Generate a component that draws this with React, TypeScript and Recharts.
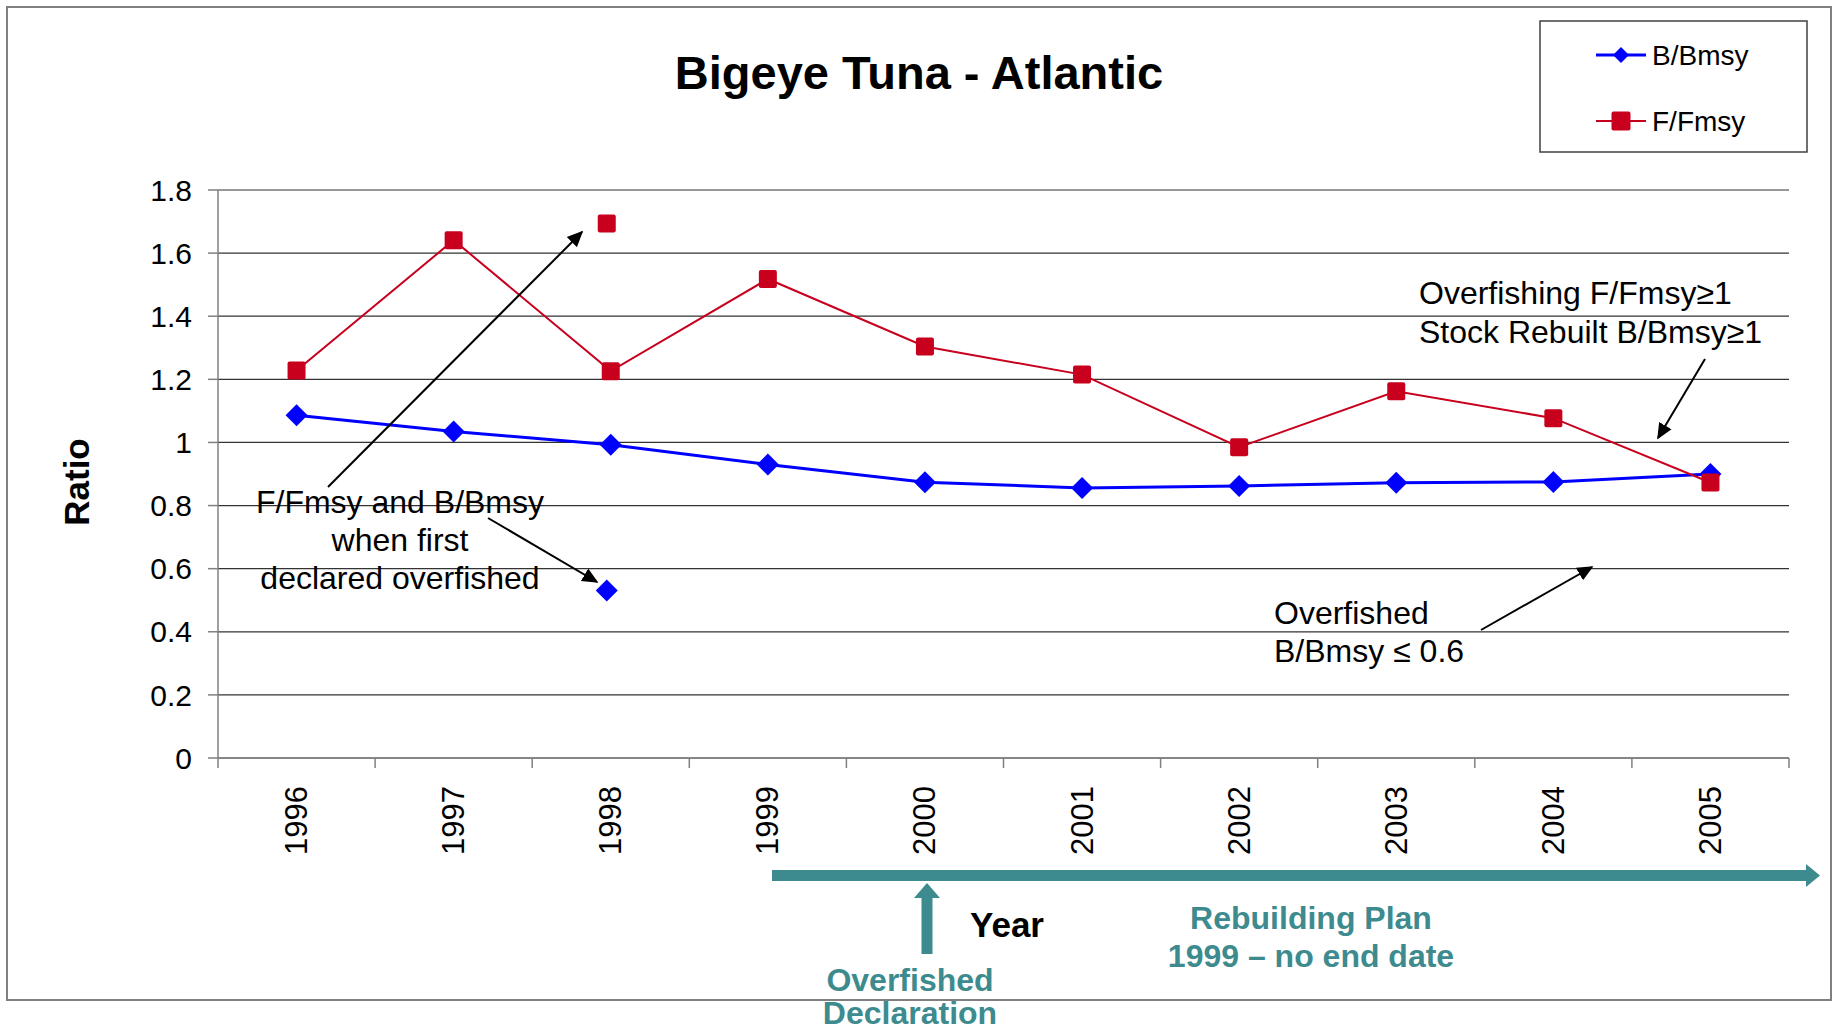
import { LineChart, Line, XAxis, YAxis, CartesianGrid } from 'recharts';

const YEARS = ['1996', '1997', '1998', '1999', '2000', '2001', '2002', '2003', '2004', '2005'];
const B_BMSY = [1.086, 1.035, 0.993, 0.93, 0.874, 0.856, 0.862, 0.872, 0.875, 0.9];
const F_FMSY = [1.228, 1.641, 1.226, 1.518, 1.304, 1.215, 0.985, 1.162, 1.077, 0.873];
const DECL_YEAR = '1998';
const DECL_F = 1.694;
const DECL_B = 0.531;
const Y_TICKS = [0, 0.2, 0.4, 0.6, 0.8, 1, 1.2, 1.4, 1.6, 1.8];

const W = 1835;
const H = 1033;
const PLOT_LEFT = 218;
const PLOT_RIGHT = 1789;
const BAND = (PLOT_RIGHT - PLOT_LEFT) / YEARS.length;

const BLUE = '#0000ff';
const RED = '#c8001e';
const TEAL = '#3d8b8f';
const FONT = '"Liberation Sans", Arial, sans-serif';

const rows = YEARS.map((year, i) => ({
  year,
  b: B_BMSY[i],
  f: F_FMSY[i],
  bDecl: year === DECL_YEAR ? DECL_B : null,
  fDecl: year === DECL_YEAR ? DECL_F : null,
}));

// recharts passes its own `r`, so marker size uses a different prop name
function Diamond({ cx, cy, dx = 0, half = 11 }: any) {
  if (cx == null || cy == null) return null;
  const x = cx + dx;
  return (
    <polygon
      points={`${x},${cy - half} ${x + half},${cy} ${x},${cy + half} ${x - half},${cy}`}
      fill={BLUE}
    />
  );
}

function Square({ cx, cy, dx = 0, side = 18 }: any) {
  if (cx == null || cy == null) return null;
  return <rect x={cx + dx - side / 2} y={cy - side / 2} width={side} height={side} rx={2} fill={RED} />;
}

function XTick(props: any) {
  const { x, y, payload, index } = props;
  const half = BAND / 2;
  return (
    <g>
      <line x1={x - half} y1={y} x2={x - half} y2={y + 10} stroke="#808080" strokeWidth={1.5} />
      {index === YEARS.length - 1 && (
        <line x1={x + half} y1={y} x2={x + half} y2={y + 10} stroke="#808080" strokeWidth={1.5} />
      )}
      <text
        x={x}
        y={y + 28}
        transform={`rotate(-90 ${x} ${y + 28})`}
        textAnchor="end"
        dominantBaseline="central"
        fontSize={31}
        fontFamily={FONT}
        fill="#000"
      >
        {payload.value}
      </text>
    </g>
  );
}

export default function App() {
  return (
    <div style={{ position: 'absolute', left: 0, top: 0, width: W, height: H, background: '#fff', fontFamily: FONT }}>
      <LineChart width={W} height={H} data={rows} margin={{ top: 190, right: 46, bottom: 175, left: 138 }}>
        <CartesianGrid vertical={false} stroke="#333" strokeWidth={1.2} />
        <XAxis
          dataKey="year"
          height={100}
          interval={0}
          padding={{ left: BAND / 2, right: BAND / 2 }}
          tickLine={false}
          tickSize={0}
          tickMargin={0}
          axisLine={{ stroke: '#808080', strokeWidth: 1.5 }}
          tick={(p: any) => <XTick {...p} />}
        />
        <YAxis
          width={80}
          domain={[0, 1.8]}
          ticks={Y_TICKS}
          interval={0}
          tickSize={10}
          tickMargin={16}
          tickLine={{ stroke: '#808080', strokeWidth: 1.5 }}
          axisLine={{ stroke: '#808080', strokeWidth: 1.5 }}
          tick={{ fontSize: 30, fill: '#000', fontFamily: FONT }}
        />
        <Line
          dataKey="b"
          stroke={BLUE}
          strokeWidth={3}
          dot={(p: any) => <Diamond key={`b-${p.index}`} cx={p.cx} cy={p.cy} />}
          activeDot={false}
          isAnimationActive={false}
        />
        <Line
          dataKey="f"
          stroke={RED}
          strokeWidth={2}
          dot={(p: any) => <Square key={`f-${p.index}`} cx={p.cx} cy={p.cy} />}
          activeDot={false}
          isAnimationActive={false}
        />
        <Line
          dataKey="bDecl"
          stroke="none"
          legendType="none"
          dot={(p: any) => <Diamond key={`bd-${p.index}`} cx={p.cx} cy={p.cy} dx={-4} />}
          activeDot={false}
          isAnimationActive={false}
        />
        <Line
          dataKey="fDecl"
          stroke="none"
          legendType="none"
          dot={(p: any) => <Square key={`fd-${p.index}`} cx={p.cx} cy={p.cy} dx={-4} />}
          activeDot={false}
          isAnimationActive={false}
        />
      </LineChart>

      <svg width={W} height={H} style={{ position: 'absolute', left: 0, top: 0, pointerEvents: 'none' }}>
        <defs>
          <marker id="ah" viewBox="0 0 10 10" refX="9" refY="5" markerWidth="8" markerHeight="8" orient="auto">
            <path d="M0,0.5 L10,5 L0,9.5 z" fill="#000" />
          </marker>
        </defs>
        <rect x={7} y={7} width={1824} height={993} fill="none" stroke="#808080" strokeWidth={2} />

        <text x={919} y={72} textAnchor="middle" dominantBaseline="central" fontSize={47} fontWeight="bold" fontFamily={FONT}>
          Bigeye Tuna - Atlantic
        </text>

        {/* legend */}
        <rect x={1540} y={21} width={267} height={131} fill="#fff" stroke="#404040" strokeWidth={1.5} />
        <line x1={1596} y1={55} x2={1646} y2={55} stroke={BLUE} strokeWidth={3} />
        <Diamond cx={1621} cy={55} half={8} />
        <text x={1652} y={55} dominantBaseline="central" fontSize={28} fontFamily={FONT}>B/Bmsy</text>
        <line x1={1596} y1={121} x2={1646} y2={121} stroke={RED} strokeWidth={2} />
        <Square cx={1621} cy={121} side={19} />
        <text x={1652} y={121} dominantBaseline="central" fontSize={28} fontFamily={FONT}>F/Fmsy</text>

        <text x={76} y={482} transform="rotate(-90 76 482)" textAnchor="middle" dominantBaseline="central" fontSize={35} fontWeight="bold" fontFamily={FONT}>
          Ratio
        </text>

        {/* annotations */}
        <line x1={328} y1={487} x2={582} y2={232} stroke="#000" strokeWidth={2} markerEnd="url(#ah)" />
        <line x1={488} y1={518} x2={597} y2={582} stroke="#000" strokeWidth={2} markerEnd="url(#ah)" />
        <line x1={1705} y1={359} x2={1658} y2={438} stroke="#000" strokeWidth={2} markerEnd="url(#ah)" />
        <line x1={1481} y1={630} x2={1592} y2={567} stroke="#000" strokeWidth={2} markerEnd="url(#ah)" />

        <g fontSize={32} fontFamily={FONT} fill="#000" dominantBaseline="central">
          <text x={400} y={502} textAnchor="middle">F/Fmsy and B/Bmsy</text>
          <text x={400} y={540} textAnchor="middle">when first</text>
          <text x={400} y={578} textAnchor="middle">declared overfished</text>
          <text x={1419} y={293}>Overfishing F/Fmsy≥1</text>
          <text x={1419} y={332}>Stock Rebuilt B/Bmsy≥1</text>
          <text x={1274} y={613}>Overfished</text>
          <text x={1274} y={651}>B/Bmsy ≤ 0.6</text>
        </g>

        {/* rebuilding timeline */}
        <rect x={772} y={870} width={1036} height={11} fill={TEAL} />
        <polygon points="1806,864 1820,875.5 1806,887" fill={TEAL} />
        <rect x={921.5} y={896} width={11} height={58} fill={TEAL} />
        <polygon points="914,898 927,883 940,898" fill={TEAL} />

        <text x={970} y={924} dominantBaseline="central" fontSize={35} fontWeight="bold" fontFamily={FONT}>Year</text>
        <g fontSize={32} fontWeight="bold" fontFamily={FONT} fill={TEAL} textAnchor="middle" dominantBaseline="central">
          <text x={1311} y={918}>Rebuilding Plan</text>
          <text x={1311} y={956}>1999 – no end date</text>
          <text x={910} y={980}>Overfished</text>
          <text x={910} y={1013}>Declaration</text>
        </g>
      </svg>
    </div>
  );
}
